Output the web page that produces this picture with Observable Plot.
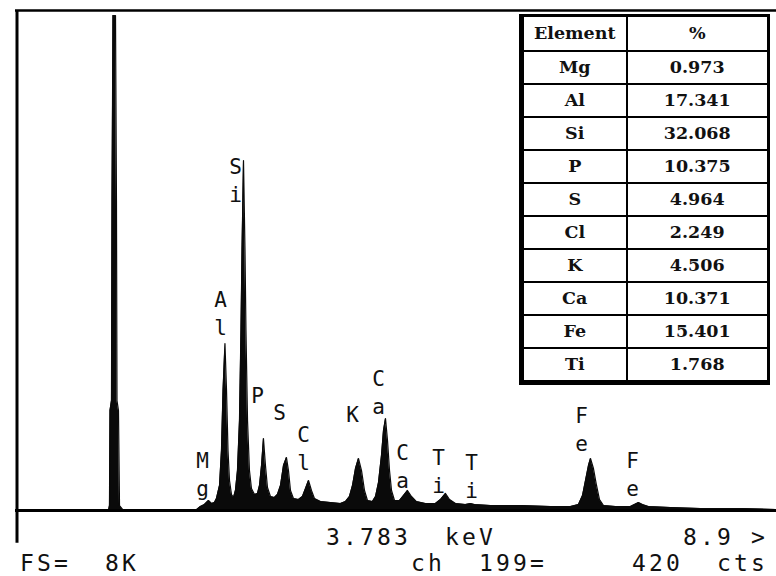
<!DOCTYPE html>
<html>
<head>
<meta charset="utf-8">
<script src="https://cdn.jsdelivr.net/npm/d3@7"></script>
<script src="https://cdn.jsdelivr.net/npm/@observablehq/plot@0.6"></script>
<style>
  html, body { margin: 0; padding: 0; background: #fff; }
  #wrap { position: relative; width: 776px; height: 576px; overflow: hidden; background: #fff; }
  #wrap > svg { position: absolute; left: 0; top: 0; }
  #tbl { position: absolute; left: 519px; top: 14px; }
  #tbl table { border-collapse: collapse; table-layout: fixed; font-family: "DejaVu Serif", serif; font-weight: bold; font-size: 17.5px; color: #111;
    border-top: 3px solid #000; border-left: 5px solid #000; border-bottom: 5px solid #000; border-right: 3px solid #000; background: #fff; }
  #tbl td { border: 2px solid #000; text-align: center; padding: 0; height: 31px; line-height: 31px; }
  #tbl tr.head td { height: 33px; }
</style>
</head>
<body>
<div id="wrap"></div>
<script>
// ---------- data ----------
// spectrum trace (energy in keV, counts)
const energy = [-0.071,-0.058,-0.051,-0.031,-0.024,-0.011,0.023,0.036,0.043,0.063,0.077,0.130,
  1.097,1.164,1.218,1.272,1.312,1.352,1.379,1.420,1.446,1.467,1.493,1.514,1.534,1.554,1.581,1.608,
  1.634,1.661,1.688,1.708,1.722,1.742,1.762,1.775,1.796,1.822,1.849,1.890,1.930,1.957,1.984,2.010,
  2.037,2.064,2.104,2.158,2.198,2.239,2.279,2.319,2.346,2.373,2.413,2.481,2.534,2.575,2.615,2.655,
  2.695,2.776,2.910,3.045,3.112,3.165,3.206,3.246,3.286,3.327,3.367,3.407,3.474,3.515,3.555,3.595,
  3.622,3.649,3.676,3.703,3.730,3.770,3.837,3.891,3.944,3.998,4.065,4.186,4.320,4.388,4.455,4.509,
  4.589,4.723,4.791,4.844,5.059,5.462,5.865,6.134,6.241,6.295,6.335,6.375,6.402,6.442,6.483,6.523,
  6.577,6.738,6.939,6.993,7.047,7.100,7.181,7.476,7.879,8.417,8.900];
const counts = [0,82,1638,1802,5079,8110,8110,5079,1802,1638,82,0,
  0,66,98,164,115,131,197,410,983,1966,2736,1966,983,492,262,213,
  328,655,1475,2949,4260,5734,4260,2949,1475,655,360,262,279,410,737,1180,
  737,377,229,213,262,410,737,868,655,328,197,180,229,360,492,328,
  197,147,131,115,147,229,410,688,852,655,328,164,147,229,459,901,
  1311,1507,1147,655,328,164,164,246,328,229,147,115,115,180,279,180,
  115,98,115,98,82,82,66,66,98,246,492,737,852,688,410,180,
  82,66,66,98,131,98,66,49,33,33,16];

// peak labels (element symbol, energy keV, counts at upper letter)
const labelSymbols = ["Mg","Al","Si","P","S","Cl","K","Ca","Ca","Ti","Ti","Fe","Fe"];
const labelEnergy  = [1.191,1.433,1.634,1.930,2.225,2.548,3.206,3.555,3.877,4.361,4.804,6.281,6.966];
const labelCounts  = [803,3441,5620,1868,1589,1229,1556,2146,934,852,770,1540,803];

// composition table
const tableElements = ["Mg","Al","Si","P","S","Cl","K","Ca","Fe","Ti"];
const tablePercents = ["0.973","17.341","32.068","10.375","4.964","2.249","4.506","10.371","15.401","1.768"];
const tableHeader = ["Element","%"];

// readout text (two lines of the analyser screen)
const readoutRow1 = ["3.783","keV","8.9 >"];
const readoutRow2 = ["FS=","8K","ch","199=","420","cts"];

// axis limits
const xMin = -1.32, xMax = 8.9;
const fullScale = 8192, belowBase = -573;

// ---------- build ----------
const spectrum = energy.map((e, i) => ({keV: e, cts: counts[i]}));
const labels = labelSymbols.map((s, i) => ({sym: s, keV: labelEnergy[i], cts: labelCounts[i]}));
const mono = "DejaVu Sans Mono, monospace";

const chart = Plot.plot({
  width: 776,
  height: 576,
  marginLeft: 15,
  marginRight: 0,
  marginTop: 10,
  marginBottom: 31,
  x: {domain: [xMin, xMax], axis: null},
  y: {domain: [belowBase, fullScale], axis: null},
  marks: [
    Plot.areaY(spectrum, {x: "keV", y: "cts", fill: "#0a0a0a", curve: "linear"}),
    Plot.line(spectrum, {x: "keV", y: "cts", stroke: "#0a0a0a", strokeWidth: 1.2, curve: "linear"}),
    Plot.ruleY([0], {x1: xMin, x2: xMax, stroke: "#000", strokeWidth: 3}),
    Plot.ruleY([fullScale], {x1: xMin, x2: xMax, stroke: "#000", strokeWidth: 2.5}),
    Plot.ruleX([xMin], {y1: belowBase + 35, y2: fullScale, stroke: "#000", strokeWidth: 3, dx: 1.5}),
    Plot.text(labels, {x: "keV", y: "cts", text: d => d.sym[0], fontFamily: mono, fontSize: 21, fill: "#111"}),
    Plot.text(labels.filter(d => d.sym.length > 1), {x: "keV", y: "cts", text: d => d.sym[1], dy: 28, fontFamily: mono, fontSize: 21, fill: "#111"})
  ]
});
const wrap = document.getElementById("wrap");
wrap.appendChild(chart);

// readout overlay on a fixed character grid (pitch 17px)
const gridLeft = 20, pitch = 17;
const cols1 = [18, 25, 39];
const cols2 = [0, 5, 23, 27, 36, 41];
const over = d3.select(wrap).append("svg").attr("width", 776).attr("height", 576)
  .style("position", "absolute").style("left", "0px").style("top", "0px");
function row(strings, cols, base) {
  strings.forEach((s, i) => {
    over.append("text").attr("x", gridLeft + cols[i] * pitch).attr("y", base)
      .attr("font-family", mono).attr("font-size", 23).attr("fill", "#111")
      .style("letter-spacing", (pitch - 23 * 0.602) + "px")
      .style("white-space", "pre").text(s);
  });
}
row(readoutRow1, cols1, 545);
row(readoutRow2, cols2, 571);

// table overlay
const tdiv = d3.select(wrap).append("div").attr("id", "tbl");
const table = tdiv.append("table");
const cg = table.append("colgroup");
cg.append("col").style("width", "105px");
cg.append("col").style("width", "142px");
const hr = table.append("tr").attr("class", "head");
tableHeader.forEach(h => hr.append("td").text(h));
tableElements.forEach((el, i) => {
  const tr = table.append("tr");
  tr.append("td").text(el);
  tr.append("td").text(tablePercents[i]);
});
</script>
</body>
</html>
